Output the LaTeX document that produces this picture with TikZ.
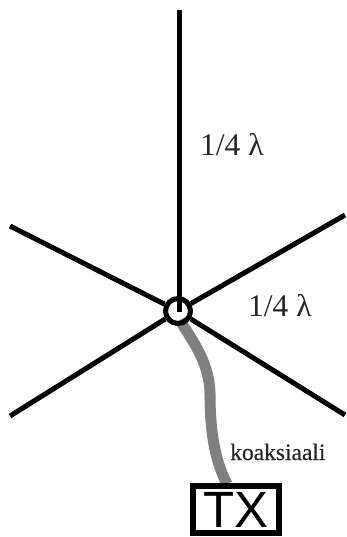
\documentclass[tikz,border=0pt]{standalone}
\usepackage{fontspec}
\setmainfont{Liberation Serif}
\newfontfamily\txfont{Liberation Sans}
\newfontfamily\boldish[FakeBold=0.4]{Liberation Serif}
\tikzset{
  wire/.style={line width=5pt,black},
  coax/.style={line width=11pt,gray},
  lab/.style={font=\fontsize{31.5}{31.5}\selectfont,text=black!85,inner sep=0pt,anchor=base west},
  coaxlab/.style={font=\boldish\fontsize{23.5}{23.5}\selectfont,text=black!85,inner sep=0pt,anchor=base west},
  hub/.style={circle,draw=black,line width=5pt,fill=none,minimum size=25pt,inner sep=0pt},
  txbox/.style={draw=black,fill=white,line width=5.5pt,minimum width=86pt,minimum height=47pt,inner sep=0pt,font=\txfont\fontsize{51}{51}\selectfont}
}
\begin{document}
\begin{tikzpicture}[x=1pt,y=-1pt]
\useasboundingbox (0,0) rectangle (346,537);
\coordinate (c) at (178,311);
\coordinate (top) at (179,10);
\coordinate (vend) at (179,312);
\coordinate (ul) at (10,226);
\coordinate (ur) at (345,215);
\coordinate (ll) at (10,416);
\coordinate (lr) at (345,415);
\coordinate (coaxtop) at (180,320);
\coordinate (coaxbot) at (227,484);
\draw[coax] (coaxtop) .. controls (190,338) and (209,360) .. (210,393)
  .. controls (210,420) and (212,455) .. (coaxbot);
\node[txbox] (tx) at (236,509.5) {TX};
\node[hub] (h) at (c) {};
\draw[wire] (top) -- (vend);
\draw[wire] (h) -- (ul);
\draw[wire] (h) -- (ur);
\draw[wire] (h) -- (ll);
\draw[wire] (h) -- (lr);
\node[lab] (l1) at (200,156) {1/4 λ};
\node[lab] (l2) at (248,316) {1/4 λ};
\node[coaxlab] (k) at (230,460) {koaksiaali};
\end{tikzpicture}
\end{document}
